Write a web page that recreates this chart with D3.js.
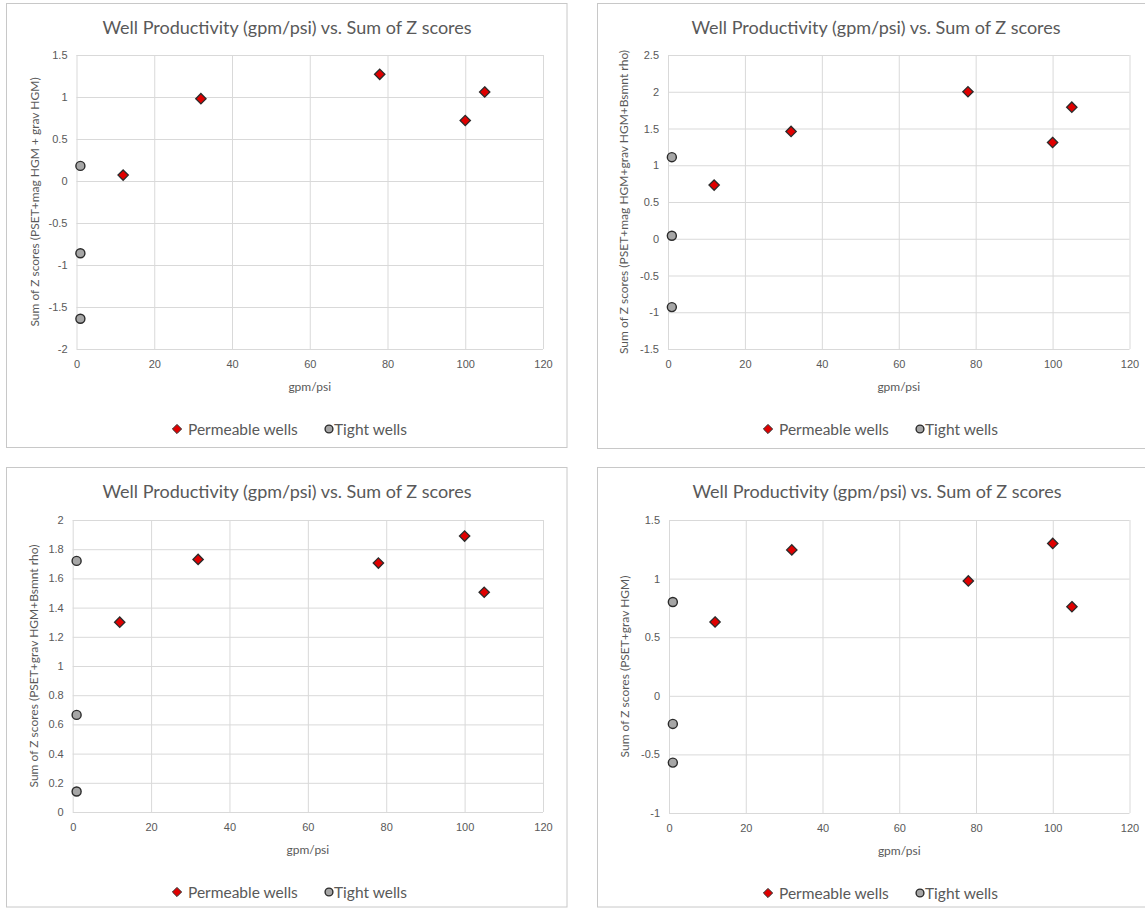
<!DOCTYPE html>
<html>
<head>
<meta charset="utf-8">
<script src="https://cdn.jsdelivr.net/npm/d3@7"></script>
<style>
  body { margin: 0; background: #fff; }
  svg { display: block; font-family: Lato, "Open Sans", sans-serif; }
  .grid line { stroke: #d9d9d9; stroke-width: 1; }
  .tick text { fill: #595959; }
</style>
</head>
<body>
<svg id="chart" width="1145" height="909"></svg>
<script>
// data
var chartTitle = "Well Productivity (gpm/psi) vs. Sum of Z scores";
var xTitle = "gpm/psi";
var seriesNames = ["Permeable wells", "Tight wells"];
var xTicks = [0, 20, 40, 60, 80, 100, 120];

var permX = [12, 32, 78, 100, 105];
var tightX = [1, 1, 1];

// chart A: PSET + mag HGM + grav HGM
var yTitleA = "Sum of Z scores (PSET+mag HGM + grav HGM)";
var yTicksA = [-2, -1.5, -1, -0.5, 0, 0.5, 1, 1.5];
var permA = [0.07, 0.98, 1.27, 0.72, 1.06];
var tightA = [0.18, -0.86, -1.64];

// chart B: PSET + mag HGM + grav HGM + Bsmnt rho
var yTitleB = "Sum of Z scores (PSET+mag HGM+grav HGM+Bsmnt rho)";
var yTicksB = [-1.5, -1, -0.5, 0, 0.5, 1, 1.5, 2, 2.5];
var permB = [0.73, 1.46, 2.0, 1.31, 1.79];
var tightB = [1.11, 0.04, -0.93];

// chart C: PSET + grav HGM + Bsmnt rho
var yTitleC = "Sum of Z scores (PSET+grav HGM+Bsmnt rho)";
var yTicksC = [0, 0.2, 0.4, 0.6, 0.8, 1, 1.2, 1.4, 1.6, 1.8, 2];
var permC = [1.3, 1.73, 1.705, 1.89, 1.505];
var tightC = [1.72, 0.665, 0.14];

// chart D: PSET + grav HGM
var yTitleD = "Sum of Z scores (PSET+grav HGM)";
var yTicksD = [-1, -0.5, 0, 0.5, 1, 1.5];
var permD = [0.63, 1.245, 0.98, 1.3, 0.76];
var tightD = [0.8, -0.24, -0.57];

var svg = d3.select("#chart");
var textColor = "#595959";
var permFill = "#e00000", tightFill = "#a6a6a6", markStroke = "#2b2b2b";

function drawPanel(box, plot, yTitle, yTicks, perm, tight) {
  var g = svg.append("g");

  g.append("rect")
    .attr("x", box.x0).attr("y", box.y0)
    .attr("width", box.x1 - box.x0).attr("height", box.y1 - box.y0)
    .attr("fill", "#fff").attr("stroke", "#c8c8c8").attr("stroke-width", 1);

  var x = d3.scaleLinear().domain([0, 120]).range([plot.x0, plot.x1]);
  var y = d3.scaleLinear().domain(d3.extent(yTicks)).range([plot.y1, plot.y0]);

  // horizontal grid + y labels (plain hyphen for negatives, like excel)
  var ya = g.append("g").attr("class", "grid")
    .attr("transform", "translate(" + plot.x0 + ",0)")
    .call(d3.axisLeft(y).tickValues(yTicks).tickSize(-(plot.x1 - plot.x0))
      .tickPadding(9).tickFormat(function(d) { return String(d); }));
  ya.select(".domain").remove();
  ya.selectAll("text").style("font-size", "11px");

  // vertical grid + x labels
  var xa = g.append("g").attr("class", "grid")
    .attr("transform", "translate(0," + plot.y1 + ")")
    .call(d3.axisBottom(x).tickValues(xTicks).tickSize(-(plot.y1 - plot.y0))
      .tickPadding(11));
  xa.select(".domain").remove();
  xa.selectAll("text").style("font-size", "11px");

  g.append("text")
    .attr("x", box.tx).attr("y", box.y0 + 30)
    .attr("text-anchor", "middle")
    .attr("fill", textColor).style("font-size", "18px")
    .text(chartTitle);

  g.append("text")
    .attr("x", (plot.x0 + plot.x1) / 2).attr("y", plot.y1 + 42)
    .attr("text-anchor", "middle")
    .attr("fill", textColor).style("font-size", "12px")
    .text(xTitle);

  g.append("text")
    .attr("transform", "translate(" + plot.ytx + "," + (plot.y0 + plot.y1) / 2 + ") rotate(-90)")
    .attr("text-anchor", "middle").attr("dy", "0.35em")
    .attr("fill", textColor).style("font-size", "12px")
    .text(yTitle);

  var diamond = d3.symbol().type(d3.symbolDiamond2).size(68);
  var circle = d3.symbol().type(d3.symbolCircle).size(64);

  g.selectAll(".perm").data(perm).enter().append("path")
    .attr("class", "perm")
    .attr("d", diamond)
    .attr("transform", function(d, i) { return "translate(" + x(permX[i]) + "," + y(d) + ")"; })
    .attr("fill", permFill).attr("stroke", markStroke).attr("stroke-width", 1.3);

  g.selectAll(".tight").data(tight).enter().append("path")
    .attr("class", "tight")
    .attr("d", circle)
    .attr("transform", function(d, i) { return "translate(" + x(tightX[i]) + "," + y(d) + ")"; })
    .attr("fill", tightFill).attr("stroke", markStroke).attr("stroke-width", 1.4);

  // legend
  var lg = g.append("g").attr("transform", "translate(" + box.lx + "," + (plot.y1 + 81) + ")");
  lg.append("path").attr("d", d3.symbol().type(d3.symbolDiamond2).size(54))
    .attr("transform", "translate(0,-1)")
    .attr("fill", permFill).attr("stroke", markStroke).attr("stroke-width", 1);
  lg.append("text").attr("x", 11).attr("dy", "0.35em")
    .attr("fill", textColor).style("font-size", "15.5px").text(seriesNames[0]);
  lg.append("path").attr("d", d3.symbol().type(d3.symbolCircle).size(48))
    .attr("transform", "translate(152,-1)")
    .attr("fill", tightFill).attr("stroke", markStroke).attr("stroke-width", 1.4);
  lg.append("text").attr("x", 157).attr("dy", "0.35em")
    .attr("fill", textColor).style("font-size", "15.5px").text(seriesNames[1]);
}

drawPanel({x0: 6.5, y0: 3.5, x1: 567, y1: 447.5, tx: 287, lx: 177},
          {x0: 76.5, x1: 543, y0: 55, y1: 349, ytx: 34.5},
          yTitleA, yTicksA, permA, tightA);
drawPanel({x0: 597.5, y0: 3.5, x1: 1158, y1: 448.5, tx: 876, lx: 768},
          {x0: 668, x1: 1129.5, y0: 55, y1: 349, ytx: 624},
          yTitleB, yTicksB, permB, tightB);
drawPanel({x0: 6.5, y0: 467.5, x1: 567, y1: 907, tx: 287, lx: 177},
          {x0: 72.7, x1: 543, y0: 520, y1: 812, ytx: 33.5},
          yTitleC, yTicksC, permC, tightC);
drawPanel({x0: 597.5, y0: 467.5, x1: 1158, y1: 907, tx: 877, lx: 768},
          {x0: 669, x1: 1129.5, y0: 520, y1: 813, ytx: 625},
          yTitleD, yTicksD, permD, tightD);
</script>
</body>
</html>
